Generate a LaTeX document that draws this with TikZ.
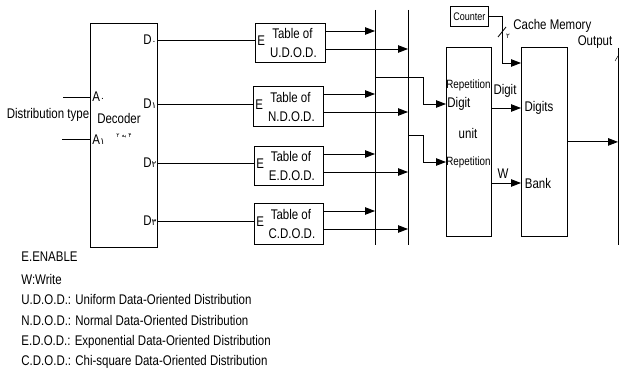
\documentclass[tikz,border=0pt]{standalone}
\usepackage{fontspec}
\setmainfont[FakeStretch=0.82]{Liberation Sans}
\newfontfamily\persfont[Script=Arabic]{DejaVu Sans}
\TeXXeTstate=1
\usetikzlibrary{arrows.meta}
\newcommand{\pdig}[1]{{\persfont\fontsize{9}{10}\selectfont #1}}

\begin{document}
\begin{tikzpicture}[
    x=1pt, y=-1pt,
    line width=0.85pt,
    every node/.style={font=\fontsize{14}{16}\selectfont, inner sep=0pt},
    blk/.style={draw, line width=0.85pt, anchor=north west},
    arr/.style={-{Triangle[length=10pt, width=7.5pt]}},
    smalltxt/.style={font=\fontsize{12}{14}\selectfont},
]
\useasboundingbox (0,0) rectangle (619,377);

% =============================================
% DECODER
% =============================================
\node[blk, minimum width=67pt, minimum height=224pt] (dec) at (90,23) {};
\node (decname) at (119,118) {Decoder};
\node[font=\fontsize{6}{7}\selectfont\persfont] (dectype) at (124,136) {\beginR ۴ به ۲\endR};
% Inputs
\node[anchor=west] (a0) at (92,97) {A\pdig{۰}};
\node[anchor=west] (a1) at (92,140) {A\pdig{۱}};
\coordinate (in0) at (63,97);
\coordinate (in1) at (62,139);
\draw (in0) -- (in0 -| dec.west);
\draw (in1) -- (in1 -| dec.west);
\node (dtype) at (48,115) {Distribution type};

% =============================================
% TABLES
% =============================================
\node[blk, minimum width=70pt, minimum height=39pt] (tabU) at (255,23) {};
\node[blk, minimum width=70pt, minimum height=40pt] (tabN) at (253,86) {};
\node[blk, minimum width=69pt, minimum height=39pt] (tabE) at (254,146) {};
\node[blk, minimum width=69pt, minimum height=41pt] (tabC) at (254,203) {};

% Buses
\coordinate (busAtop) at (375,10);
\coordinate (busAbot) at (375,245);
\coordinate (busBtop) at (408,10);
\coordinate (busBbot) at (408,245);
\draw (busAtop) -- (busAbot);
\draw (busBtop) -- (busBbot);

\foreach \t/\d/\nm [count=\i] in {tabU/۰/U, tabN/۱/N, tabE/۲/E, tabC/۳/C} {
  % Enable line from decoder
  \coordinate (e\i) at ([yshift=2pt]\t.west);
  \node[anchor=east, xshift=-1pt, yshift=1pt] (d\i) at (dec.east |- e\i) {D\pdig{\d}};
  \draw (dec.east |- e\i) -- (e\i);
  \node[anchor=west] (en\i) at ([xshift=2pt]e\i) {E};
  \node (ttl\i) at ([xshift=2pt, yshift=9pt]\t.center) {Table of};
  \node (abb\i) at ([xshift=3pt, yshift=-10pt]\t.center) {\nm.D.O.D.};
  % Outputs to buses
  \coordinate (oa\i) at ([yshift=-8pt]\t.north east);
  \coordinate (ob\i) at ([yshift=-26pt]\t.north east);
  \draw[arr] (oa\i) -- (oa\i -| busAtop);
  \draw[arr] (ob\i) -- (ob\i -| busBtop);
}

% =============================================
% REPETITION UNIT & DIGITS BANK
% =============================================
\node[blk, minimum width=45pt, minimum height=189pt] (rep) at (446,47) {};
\node[blk, minimum width=46pt, minimum height=189pt] (bank) at (521,47) {};
\node[blk, minimum width=38pt, minimum height=20pt, font=\fontsize{11}{12}\selectfont] (cnt) at (450,6) {Counter};

\node[smalltxt] (rep1) at (468.5,85) {Repetition};
\node[anchor=west] (rep2) at (447,104) {Digit};
\node (rep3) at (468,133) {unit};
\node[smalltxt] (rep4) at (468.5,162) {Repetition};
\node (bank1) at (539,108) {Digits};
\node (bank2) at (538,183) {Bank};

% Bus taps
\coordinate (tapA) at (375,77);
\coordinate (jA) at (423,104);
\coordinate (tapB) at (408,135);
\coordinate (jB) at (423,162);
\draw[arr] (tapA) -| (jA) -- (jA -| rep.west);
\draw[arr] (tapB) -| (jB) -- (jB -| rep.west);

% Repetition unit -> bank
\coordinate (dgo) at (491,108);
\coordinate (wro) at (491,183);
\draw[arr] (dgo) -- (dgo -| bank.west);
\draw[arr] (wro) -- (wro -| bank.west);
\node (dglbl) at (505,91) {Digit};
\node (wlbl) at (503,174) {W};

% Counter -> bank
\coordinate (cc) at (502,63);
\draw[arr] (cnt.east) -| (cc) -- (cc -| bank.west);
\draw (498,37) -- (506,27);
\node[font=\fontsize{7}{8}\selectfont\persfont] (cbits) at (508,36) {۲};
\node[anchor=west] (cache) at (513,26) {Cache Memory};
\node (outlbl) at (595,42) {Output};

% Output
\coordinate (outtop) at (618,48);
\coordinate (outbot) at (618,245);
\draw (outtop) -- (outbot);
\draw[line width=0.5pt] (615,61) -- (618,56);
\draw[arr] (bank.east) -- (bank.east -| outtop);

% =============================================
% LEGEND
% =============================================
\node[anchor=west] (lg1) at (21,257) {E.ENABLE};
\node[anchor=west] (lg2) at (21,279) {W:Write};
\node[anchor=west] (lg3) at (21,299) {U.D.O.D.: Uniform Data-Oriented Distribution};
\node[anchor=west] (lg4) at (21,320) {N.D.O.D.: Normal Data-Oriented Distribution};
\node[anchor=west] (lg5) at (21,342) {E.D.O.D.: Exponential Data-Oriented Distribution};
\node[anchor=west] (lg6) at (21,362) {C.D.O.D.: Chi-square Data-Oriented Distribution};

\end{tikzpicture}
\end{document}
